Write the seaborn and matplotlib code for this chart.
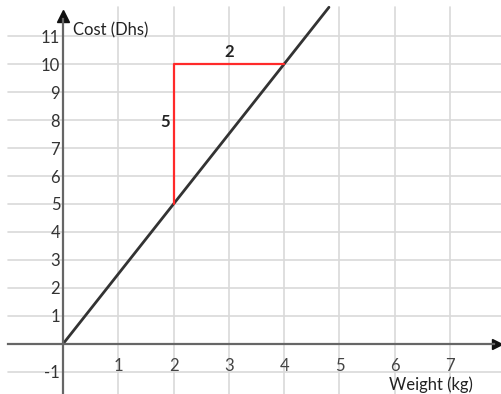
import numpy as np
import pandas as pd
import matplotlib
matplotlib.use("Agg")
import matplotlib.pyplot as plt
import seaborn as sb

# dados
peso = [0, 4.81]
custo = [0, 12.03]
degrau_x = [2, 2, 4]
degrau_y = [5, 10, 10]
xticks = [1, 2, 3, 4, 5, 6, 7]
yticks = [-1, 1, 2, 3, 4, 5, 6, 7, 8, 9, 10, 11]

sb.set_style("white")
plt.rcParams['font.family'] = ['Lato', 'DejaVu Sans']

fig, ax = plt.subplots(figsize=(5.02, 3.94), dpi=100)
fig.subplots_adjust(left=0, right=1, bottom=0, top=1)

linha = pd.DataFrame({'Weight': peso, 'Cost': custo})
sb.lineplot(data=linha, x='Weight', y='Cost', color='#333333', lw=2, ax=ax)
sb.lineplot(x=degrau_x, y=degrau_y, color='#ff2a2a', lw=1.6, sort=False,
            estimator=None, errorbar=None, ax=ax)

ax.set_xlim(-1.14, 7.94)
ax.set_ylim(-1.79, 12.29)

# grade
for gx in xticks:
    ax.axvline(gx, color='#d9d9d9', lw=1.2, ymax=0.982, zorder=0)
for gy in yticks:
    ax.axhline(gy, color='#d9d9d9', lw=1.2, xmin=0.015, zorder=0)

# eixos no zero
ax.spines['left'].set_position(('data', 0))
ax.spines['bottom'].set_position(('data', 0))
ax.spines['right'].set_visible(False)
ax.spines['top'].set_visible(False)
for s in ['left', 'bottom']:
    ax.spines[s].set_color('#666666')
    ax.spines[s].set_linewidth(1.6)
ax.spines['left'].set_bounds(-1.79, 11.6)
ax.spines['bottom'].set_bounds(-1.0, 7.8)
ax.plot(7.85, 0, '>', color='#111111', ms=7, clip_on=False)
ax.plot(0, 11.72, '^', color='#111111', ms=8, clip_on=False)

ax.set_xticks(xticks)
ax.set_yticks(yticks)
ax.set_xticklabels([str(t) for t in xticks])
ax.set_yticklabels([str(t) for t in yticks])
ax.tick_params(axis='x', length=0, pad=10, labelsize=12, labelcolor='#444444')
ax.tick_params(axis='y', length=0, pad=2, labelsize=12, labelcolor='#333333')
ax.set_xlabel('')
ax.set_ylabel('')

ax.text(0.18, 11.2, 'Cost (Dhs)', fontsize=12, color='#222222', va='center')
ax.text(5.9, -1.47, 'Weight (kg)', fontsize=12, color='#222222', va='center')
ax.text(3.0, 10.42, '2', fontsize=12, fontweight='bold', color='#222222', ha='center', va='center')
ax.text(1.84, 7.93, '5', fontsize=12, fontweight='bold', color='#222222', ha='center', va='center')

plt.savefig('out.png', dpi=100)
